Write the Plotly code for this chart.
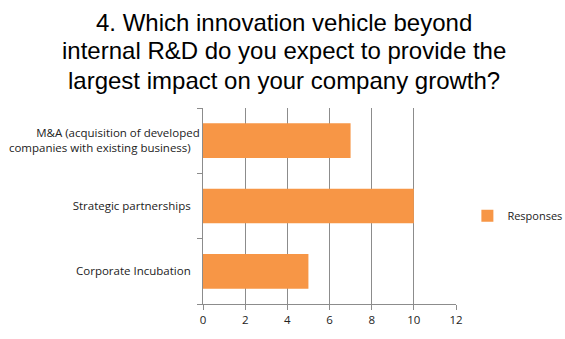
import plotly.graph_objects as go

categories = ["Corporate Incubation", "Strategic partnerships",
              "M&A (acquisition of developed<br>companies with existing business)"]
responses = [5, 10, 7]
x_ticks = [0, 2, 4, 6, 8, 10, 12]
title_lines = ["4. Which innovation vehicle beyond",
               "internal R&D do you expect to provide the",
               "largest impact on your company growth?"]

fig = go.Figure()
fig.add_trace(go.Bar(
    y=categories, x=responses, orientation="h", name="Responses",
    marker=dict(color="#F79646", line=dict(width=0)),
    showlegend=True,
))

annotations = []
for i, line in enumerate(title_lines):
    annotations.append(dict(
        text=line, xref="paper", yref="paper",
        x=(284 - 203) / 253, y=1 + (108 - (22 + 29 * i)) / 196,
        xanchor="center", yanchor="middle", showarrow=False,
        font=dict(family="Liberation Sans, Arial", size=24, color="black"),
    ))

fig.update_layout(
    width=565, height=339,
    margin=dict(l=203, r=109, t=108, b=35, autoexpand=False),
    paper_bgcolor="white", plot_bgcolor="white",
    bargap=0.47,
    annotations=annotations,
    font=dict(family="Open Sans, Liberation Sans", size=11.5, color="#222"),
    legend=dict(x=1.045, y=0.45, xanchor="left", yanchor="middle",
                font=dict(size=11, color="#222"),
                itemwidth=30, bgcolor="rgba(0,0,0,0)"),
    xaxis=dict(
        range=[0, 12], tickvals=x_ticks, ticktext=[str(v) for v in x_ticks],
        showgrid=True, gridcolor="#8c8c8c", gridwidth=1,
        showline=True, linecolor="#8c8c8c", linewidth=1,
        ticks="outside", ticklen=5, tickcolor="#8c8c8c",
        zeroline=False, fixedrange=True,
    ),
    yaxis=dict(
        showline=True, linecolor="#8c8c8c", linewidth=1,
        ticks="outside", ticklen=5, tickcolor="#8c8c8c",
        tickson="boundaries", showgrid=False, ticksuffix="   ",
        fixedrange=True,
    ),
)

fig.write_html("out.html")
